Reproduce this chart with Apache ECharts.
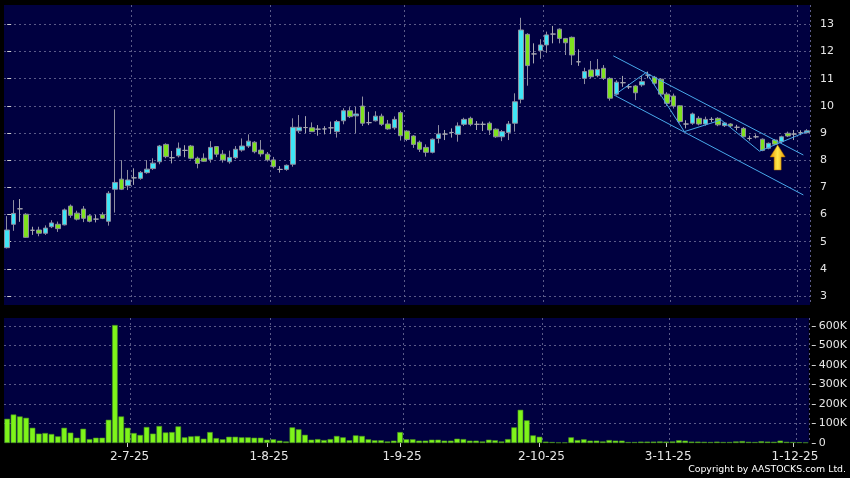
<!DOCTYPE html>
<html><head><meta charset="utf-8">
<script src="https://cdn.jsdelivr.net/npm/echarts@6/dist/echarts.min.js"></script>
<style>html,body{margin:0;padding:0;background:#000;}#c{width:850px;height:478px;}</style>
</head><body><div id="c"></div>
<script>
const dates = [
'4-6-25','5-6-25','6-6-25','9-6-25','10-6-25','11-6-25','12-6-25','13-6-25','16-6-25','17-6-25',
'18-6-25','19-6-25','20-6-25','23-6-25','24-6-25','25-6-25','26-6-25','27-6-25','30-6-25',
'2-7-25','3-7-25','4-7-25','7-7-25','8-7-25','9-7-25','10-7-25','11-7-25','14-7-25','15-7-25','16-7-25',
'17-7-25','18-7-25','21-7-25','22-7-25','23-7-25','24-7-25','25-7-25','28-7-25','29-7-25','30-7-25','31-7-25',
'1-8-25','4-8-25','5-8-25','6-8-25','7-8-25','8-8-25','11-8-25','12-8-25','13-8-25','14-8-25',
'15-8-25','18-8-25','19-8-25','20-8-25','21-8-25','22-8-25','25-8-25','26-8-25','27-8-25','28-8-25','29-8-25',
'1-9-25','2-9-25','3-9-25','4-9-25','5-9-25','8-9-25','9-9-25','10-9-25','11-9-25','12-9-25',
'15-9-25','16-9-25','17-9-25','18-9-25','19-9-25','22-9-25','23-9-25','24-9-25','25-9-25','26-9-25','29-9-25','30-9-25',
'2-10-25','3-10-25','6-10-25','8-10-25','9-10-25','10-10-25','13-10-25','14-10-25','15-10-25','16-10-25',
'17-10-25','20-10-25','21-10-25','22-10-25','23-10-25','24-10-25','27-10-25','28-10-25','30-10-25','31-10-25',
'3-11-25','4-11-25','5-11-25','6-11-25','7-11-25','10-11-25','11-11-25','12-11-25','13-11-25','14-11-25',
'17-11-25','18-11-25','19-11-25','20-11-25','21-11-25','24-11-25','25-11-25','26-11-25','27-11-25','28-11-25',
'1-12-25','2-12-25','3-12-25'];

const open = [4.78,5.64,6.21,6.01,5.42,5.43,5.31,5.55,5.64,5.62,
6.31,6.05,6.20,5.95,5.83,5.99,5.75,6.93,7.30,7.06,
7.35,7.33,7.54,7.69,7.94,8.58,8.09,8.16,8.36,8.52,
8.07,8.07,8.03,8.50,8.22,7.94,8.09,8.37,8.52,8.66,
8.37,8.22,8.01,7.66,7.66,7.85,9.08,9.20,9.19,9.14,
9.15,9.19,9.05,9.45,9.82,9.63,9.99,9.38,9.45,9.62,
9.33,9.19,9.75,9.07,8.89,8.66,8.47,8.29,8.80,8.96,
9.02,8.95,9.32,9.54,9.32,9.32,9.36,9.14,8.86,9.02,
9.36,10.24,12.63,11.91,12.03,12.24,12.64,12.82,12.48,12.52,
11.62,11.01,11.32,11.11,11.38,11.01,10.43,10.85,10.70,10.73,
10.77,11.13,11.05,10.98,10.43,10.36,10.00,9.33,9.36,9.54,
9.33,9.50,9.54,9.27,9.33,9.21,9.17,8.80,8.86,8.77,
8.44,8.74,8.68,8.99,8.96,9.01,9.01];

const close = [5.43,6.04,6.21,5.16,5.42,5.31,5.50,5.69,5.48,6.17,
5.97,5.83,5.86,5.75,5.83,5.86,6.78,7.18,6.93,7.27,
7.35,7.55,7.67,7.89,8.52,8.13,8.09,8.44,8.36,8.07,
7.88,7.96,8.47,8.22,8.01,8.10,8.40,8.52,8.70,8.31,
8.23,8.01,7.76,7.66,7.81,9.21,9.21,9.20,9.05,9.14,
9.15,9.19,9.42,9.82,9.60,9.70,9.36,9.38,9.62,9.32,
9.15,9.50,8.90,8.76,8.58,8.40,8.29,8.77,8.96,8.96,
9.02,9.26,9.50,9.32,9.32,9.32,9.11,8.86,9.05,9.33,
10.15,12.79,11.48,11.91,12.24,12.61,12.64,12.48,12.32,11.87,
11.62,11.26,11.07,11.34,11.01,10.28,10.87,10.85,10.70,10.48,
10.89,11.13,10.83,10.43,10.09,9.99,9.42,9.33,9.70,9.33,
9.50,9.50,9.30,9.37,9.26,9.21,8.86,8.80,8.86,8.36,
8.62,8.59,8.86,8.89,8.96,9.01,9.08];

const low = [4.75,5.40,5.73,5.14,5.25,5.20,5.25,5.50,5.36,5.60,
5.88,5.78,5.72,5.71,5.71,5.83,5.59,6.07,6.90,6.90,
7.09,7.28,7.50,7.64,7.85,8.07,7.88,8.10,8.11,8.03,
7.70,7.94,7.91,8.11,7.91,7.87,8.04,8.31,8.45,8.25,
8.13,7.95,7.70,7.54,7.61,7.76,8.99,8.99,9.04,8.90,
8.95,8.96,8.83,9.32,9.55,8.99,9.26,9.29,9.42,9.26,
9.12,9.12,8.72,8.70,8.45,8.30,8.13,8.25,8.62,8.74,
8.83,8.68,9.26,9.25,9.11,9.07,8.93,8.82,8.70,8.74,
9.05,10.09,10.74,11.56,11.73,11.95,12.30,12.30,11.87,11.50,
11.47,10.80,11.01,11.05,10.95,10.19,10.38,10.70,10.62,10.21,
10.70,11.01,10.77,10.35,10.00,9.90,9.38,9.17,9.30,9.28,
9.27,9.40,9.25,9.22,9.22,9.10,8.84,8.72,8.80,8.33,
8.40,8.55,8.62,8.85,8.74,8.92,8.98];

const high = [5.94,6.53,6.57,6.05,5.55,5.55,5.60,5.79,5.74,6.22,
6.37,6.14,6.31,6.00,5.99,6.08,6.86,9.87,8.00,7.64,
7.70,7.60,8.00,8.07,8.56,8.62,8.34,8.65,8.55,8.56,
8.13,8.25,8.70,8.52,8.37,8.35,8.52,8.80,8.95,8.70,
8.74,8.30,8.12,7.78,7.84,9.54,9.66,9.62,9.39,9.29,
9.25,9.42,9.48,9.91,9.95,9.97,10.34,9.78,9.80,9.71,
9.48,9.61,9.82,9.10,8.92,8.72,8.58,8.80,9.29,9.11,
9.17,9.39,9.56,9.60,9.44,9.42,9.42,9.17,9.11,9.44,
10.46,13.24,12.67,12.30,12.45,12.73,12.94,12.85,12.50,12.55,
12.08,11.40,11.65,11.72,11.50,11.05,10.94,11.10,10.80,10.77,
11.10,11.26,11.10,11.02,10.50,10.45,10.02,9.47,9.75,9.62,
9.60,9.58,9.58,9.40,9.36,9.30,9.22,8.90,8.95,8.80,
8.65,8.78,8.90,9.05,9.11,9.10,9.14];

// volume in thousands of shares
const volume = [124,146,136,129,78,48,51,46,34,78,
53,27,73,20,27,27,119,604,136,78,
51,41,82,48,87,54,56,85,29,34,
36,22,56,25,19,32,32,29,29,27,
27,17,19,12,8,80,70,42,17,20,
15,20,36,29,14,39,36,19,14,14,
8,12,56,19,19,12,12,17,17,12,
12,22,20,12,12,8,17,14,8,20,
80,170,116,39,32,7,5,3,3,29,
15,19,12,12,8,15,12,12,5,5,
7,7,7,8,7,8,14,12,7,7,
6,5,7,5,5,8,10,6,5,9,
7,6,12,6,5,4,3];

const tickLabels = ['2-7-25','1-8-25','1-9-25','2-10-25','3-11-25','1-12-25'];
const priceTicks = [3,4,5,6,7,8,9,10,11,12,13];
const volumeTicks = [0,100,200,300,400,500,600];

// drawn channel (x in candle-index units, y in price)
const channelUpper = [[95.5,11.84],[125.45,8.19]];
const channelLower = [[95.6,10.40],[125.45,6.72]];
const zigzag = [[95.9,10.43],[100.7,11.23],[106.7,9.05],[112.5,9.48],[118.55,8.33],[126.0,9.05]];
const arrowAt = [[121.4,8.10]];

const CYAN = '#3fe6f6', GREEN = '#7ee21e', EDGE = '#8e8ea0', DOJI = '#a8a8b0';
const GRIDC = '#5a5a88';
const labelIdx = tickLabels.map(l => dates.indexOf(l));

const candleData = dates.map((d, i) => {
  const v = [open[i], close[i], low[i], high[i]];
  if (open[i] === close[i]) {
    return { value: v, itemStyle: { color: DOJI, color0: DOJI, borderColor: DOJI, borderColor0: DOJI } };
  }
  return v;
});

const chart = echarts.init(document.getElementById('c'), null, { renderer: 'canvas' });
const dash = { color: GRIDC, type: [2, 3], width: 1 };
const labelFont = { color: '#e6e6e6', fontFamily: 'DejaVu Sans', fontSize: 11 };

chart.setOption({
  backgroundColor: '#000000',
  animation: false,
  grid: [
    { left: 4, width: 806, top: 5, height: 300, show: true, backgroundColor: '#000040', borderWidth: 0 },
    { left: 4, width: 806, top: 318, height: 125, show: true, backgroundColor: '#000040', borderWidth: 0 }
  ],
  xAxis: [
    { type: 'category', gridIndex: 0, data: dates, boundaryGap: true,
      axisLine: { show: false }, axisTick: { show: false }, axisLabel: { show: false },
      splitLine: { show: true, interval: (i) => labelIdx.includes(i - 1), lineStyle: dash } },
    { type: 'category', gridIndex: 1, data: dates, boundaryGap: true, offset: 2,
      axisLine: { show: false },
      axisTick: { show: true, alignWithLabel: true, interval: (i) => labelIdx.includes(i), length: 4, lineStyle: { color: '#cfcfcf' } },
      axisLabel: { show: true, interval: (i) => labelIdx.includes(i), margin: 6, padding: [0, 0, 0, 4],
        color: '#e6e6e6', fontFamily: 'DejaVu Sans', fontSize: 12 },
      splitLine: { show: true, interval: (i) => labelIdx.includes(i - 1), lineStyle: dash } },
    { type: 'value', gridIndex: 0, min: -0.5, max: dates.length - 0.5, show: false }
  ],
  yAxis: [
    { type: 'value', gridIndex: 0, position: 'right', min: 2.67, max: 13.71, minInterval: 1, maxInterval: 1, offset: 3,
      axisLine: { show: false },
      axisTick: { show: true, length: 4, customValues: priceTicks, lineStyle: { color: '#cfcfcf' } },
      axisLabel: Object.assign({ margin: 7, customValues: priceTicks }, labelFont),
      splitLine: { show: true, lineStyle: dash } },
    { type: 'value', gridIndex: 1, position: 'right', min: 0, max: 640, interval: 100, offset: 3,
      axisLine: { show: false },
      axisTick: { show: true, length: 4, customValues: volumeTicks, lineStyle: { color: '#cfcfcf' } },
      axisLabel: Object.assign({ margin: 7, customValues: volumeTicks,
        formatter: (v) => v === 0 ? '0' : v + 'K' }, labelFont),
      splitLine: { show: true, showMinLine: false, lineStyle: dash } }
  ],
  graphic: [
    { type: 'text', right: 4, top: 465, style: { text: 'Copyright by AASTOCKS.com Ltd.', fill: '#ffffff', font: '9.4px "DejaVu Sans"' } }
  ],
  series: [
    { type: 'candlestick', xAxisIndex: 0, yAxisIndex: 0, data: candleData, barWidth: 5,
      itemStyle: { color: CYAN, color0: GREEN, borderColor: EDGE, borderColor0: EDGE, borderWidth: 1 } },
    { type: 'line', xAxisIndex: 2, yAxisIndex: 0, data: channelUpper, showSymbol: false, silent: true,
      lineStyle: { color: '#48a8ea', width: 1 } },
    { type: 'line', xAxisIndex: 2, yAxisIndex: 0, data: channelLower, showSymbol: false, silent: true,
      lineStyle: { color: '#48a8ea', width: 1 } },
    { type: 'line', xAxisIndex: 2, yAxisIndex: 0, data: zigzag, showSymbol: false, silent: true,
      lineStyle: { color: '#48a8ea', width: 1 } },
    { type: 'scatter', xAxisIndex: 2, yAxisIndex: 0, data: arrowAt, silent: true, z: 5,
      symbol: 'path://M7.5,0 L15,12 L11,12 L11,25 L4,25 L4,12 L0,12 Z', symbolSize: [15, 25],
      itemStyle: { color: { type: 'linear', x: 0, y: 0, x2: 1, y2: 0,
        colorStops: [{ offset: 0, color: '#e89400' }, { offset: 0.5, color: '#ffe84a' }, { offset: 1, color: '#e89400' }] },
        borderColor: '#b87400', borderWidth: 0.5, opacity: 1 } },
    { type: 'bar', xAxisIndex: 1, yAxisIndex: 1, data: volume, barWidth: 5.6,
      itemStyle: { color: '#7ef41a', borderColor: '#4a9422', borderWidth: 0.6 } }
  ]
});
</script>
</body></html>
